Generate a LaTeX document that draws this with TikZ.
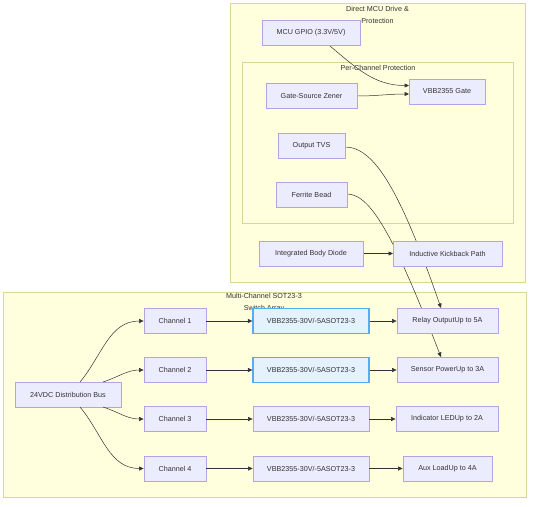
\documentclass[tikz,border=0pt]{standalone}
\usepackage{fontspec}
\setmainfont{Liberation Sans}
\usepackage{xcolor}
\usetikzlibrary{arrows.meta}

\definecolor{nodefill}{HTML}{ECECFF}
\definecolor{nodeline}{HTML}{B7A2E8}
\definecolor{clusterfill}{HTML}{FFFFDE}
\definecolor{clusterline}{HTML}{D8D896}
\definecolor{hifill}{HTML}{E3F2FD}
\definecolor{hiline}{HTML}{52AEF0}
\definecolor{inkgray}{HTML}{333333}

\tikzset{
  block/.style={draw=nodeline, fill=nodefill, line width=0.8pt, minimum height=25pt,
    inner sep=0pt, font=\fontsize{7.2}{8}\selectfont, text=inkgray},
  hiblock/.style={block, draw=hiline, fill=hifill, line width=1.3pt},
  cluster/.style={draw=clusterline, fill=clusterfill, line width=0.8pt},
  clustertitle/.style={font=\fontsize{7.2}{11.5}\selectfont, text=inkgray, align=center, inner sep=0pt},
  link/.style={draw=inkgray, line width=0.5pt, -{Triangle[length=4.5pt,width=4pt]}},
}

\begin{document}
\begin{tikzpicture}[x=1pt, y=-1pt]
\useasboundingbox (0,0) rectangle (534,506);

% clusters
\begin{scope}
{
\draw[cluster] (230,3) rectangle (525,282);
\node[clustertitle] (drivetitle) at (377.5,15) {Direct MCU Drive \&\\Protection};

\draw[cluster] (242,62) rectangle (513,223);
\node[clustertitle] (prottitle) at (378,68) {Per-Channel Protection};

\draw[cluster] (3,292) rectangle (526,497);
\node[clustertitle] (arraytitle) at (264,302.5) {Multi-Channel SOT23-3\\Switch Array};
}
\end{scope}

% edges first, boxes drawn over them
\coordinate (mcuout) at (330,46);
\coordinate (busne) at (80,382);
\coordinate (busnr) at (103,382);
\coordinate (bussr) at (103,407);
\coordinate (busse) at (80,407);

\draw[link] (mcuout) to[out=-40, in=180] (409,85.5);
\draw[link] (357,96) to[out=0, in=180] (409,94);
\draw[link] (345,147) .. controls (375,147) and (401,193) .. (441,308);
\draw[link] (347,194) .. controls (372,194) and (396,242) .. (441,357);
\draw[link] (363,253.5) -- (393,253.5);

% top cluster nodes
\node[block, minimum width=98pt] (mcu) at (311,33) {MCU GPIO (3.3V/5V)};
\node[block, minimum width=76pt] (gate) at (447,91.5) {VBB2355 Gate};
\node[block, minimum width=91pt] (zener) at (311.5,96) {Gate-Source Zener};
\node[block, minimum width=67pt] (tvs) at (311.5,145.5) {Output TVS};
\node[block, minimum width=71pt] (ferrite) at (311.5,194.5) {Ferrite Bead};
\node[block, minimum width=104pt] (diode) at (311,253.5) {Integrated Body Diode};
\node[block, minimum width=109pt] (kick) at (447.5,253.5) {Inductive Kickback Path};

% bottom cluster nodes
\node[block, minimum width=106pt] (bus) at (68,394.5) {24VDC Distribution Bus};

\node[block, minimum width=62pt] (ch1) at (175,321) {Channel 1};
\node[block, minimum width=62pt] (ch2) at (175,370) {Channel 2};
\node[block, minimum width=62pt] (ch3) at (175,419) {Channel 3};
\node[block, minimum width=62pt] (ch4) at (175,468.5) {Channel 4};

\node[hiblock, minimum width=116pt] (sw1) at (311,321) {VBB2355-30V/-5ASOT23-3};
\node[hiblock, minimum width=116pt] (sw2) at (311,370) {VBB2355-30V/-5ASOT23-3};
\node[block, minimum width=116pt] (sw3) at (311,419) {VBB2355-30V/-5ASOT23-3};
\node[block, minimum width=116pt] (sw4) at (311,468.5) {VBB2355-30V/-5ASOT23-3};

\node[block, minimum width=101pt] (relay) at (447.5,321) {Relay OutputUp to 5A};
\node[block, minimum width=101pt] (sensor) at (447.5,370) {Sensor PowerUp to 3A};
\node[block, minimum width=102pt] (led) at (447,419) {Indicator LEDUp to 2A};
\node[block, minimum width=89pt] (aux) at (447.5,468.5) {Aux LoadUp to 4A};

% bus fan-out
\draw[link] (busne) to[out=50, in=180] (ch1.west);
\draw[link] (busnr) to[out=18, in=180] (ch2.west);
\draw[link] (bussr) to[out=-18, in=180] (ch3.west);
\draw[link] (busse) to[out=-50, in=180] (ch4.west);

% channel rows
\foreach \i in {1,2,3,4}
{
\draw[link] (ch\i.east) -- (sw\i.west);
}
\draw[link] (sw1.east) -- (relay.west);
\draw[link] (sw2.east) -- (sensor.west);
\draw[link] (sw3.east) -- (led.west);
\draw[link] (sw4.east) -- (aux.west);

\end{tikzpicture}
\end{document}
